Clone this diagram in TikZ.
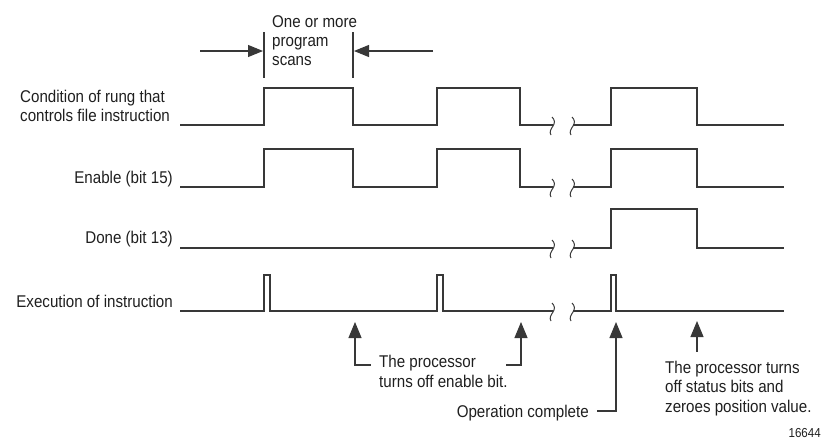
\documentclass[tikz,border=0pt]{standalone}
\usepackage{fontspec}
\setmainfont[FakeStretch=0.89]{Liberation Sans}
\usetikzlibrary{arrows.meta}
\begin{document}
\begin{tikzpicture}[x=1pt,y=-1pt,
  wave/.style={draw=black!78,line width=1.1pt,line join=miter},
  ann/.style={draw=black!78,line width=1.1pt},
  tip/.style={{Triangle[length=16pt,width=13pt]}-},
  toptip/.style={-{Triangle[length=15pt,width=12pt]}},
  lbl/.style={inner sep=0pt,text=black!88,font=\fontsize{17}{19}\selectfont},
  small/.style={inner sep=0pt,text=black!88,font=\fontsize{13}{15}\selectfont},
  brk/.pic={\draw[wave,line width=1pt] (0,-8) .. controls (3,-5) and (3,-2) .. (1,1) .. controls (-1,4) and (-3,7) .. (-1,10);}
]
\useasboundingbox (0,0) rectangle (828,440);

% ---- row labels
\node[lbl,anchor=base west] (c1) at (20,102) {Condition of rung that};
\node[lbl,anchor=base west] (c2) at (20,121) {controls file instruction};
\node[lbl,anchor=base east] (en) at (173,183) {Enable (bit 15)};
\node[lbl,anchor=base east] (dn) at (173,243) {Done (bit 13)};
\node[lbl,anchor=base east] (ex) at (173,307) {Execution of instruction};

% ---- waveforms
% condition
\draw[wave] (180,125) -- (264,125) -- (264,88) -- (353,88) -- (353,125) -- (437,125) -- (437,88) -- (520,88) -- (520,125) -- (553,125);
\draw[wave] (573,125) -- (611,125) -- (611,88) -- (697,88) -- (697,125) -- (784,125);
% enable
\draw[wave] (180,187) -- (264,187) -- (264,149) -- (353,149) -- (353,187) -- (437,187) -- (437,149) -- (520,149) -- (520,187) -- (553,187);
\draw[wave] (573,187) -- (611,187) -- (611,149) -- (697,149) -- (697,187) -- (784,187);
% done
\draw[wave] (180,248) -- (553,248);
\draw[wave] (573,248) -- (611,248) -- (611,209) -- (697,209) -- (697,248) -- (784,248);
% execution
\draw[wave] (180,311) -- (264,311) -- (264,275) -- (270,275) -- (270,311) -- (437,311) -- (437,275) -- (443,275) -- (443,311) -- (553,311);
\draw[wave] (573,311) -- (611,311) -- (611,275) -- (616,275) -- (616,311) -- (784,311);

% ---- break marks
\foreach \yy in {125,187,248,311}{
  \pic at (552,\yy) {brk};
  \pic at (572,\yy) {brk};
}

% ---- top dimension
\coordinate (t1a) at (264,32); \coordinate (t1b) at (264,78);
\coordinate (t2a) at (353,32); \coordinate (t2b) at (353,78);
\draw[ann] (t1a) -- (t1b);
\draw[ann] (t2a) -- (t2b);
\coordinate (la) at (200,51); \coordinate (lb) at (263,51);
\coordinate (ra) at (433,51); \coordinate (rb) at (354,51);
\draw[ann,toptip] (la) -- (lb);
\draw[ann,toptip] (ra) -- (rb);
\node[lbl,anchor=base west] (s1) at (272,27) {One or more};
\node[lbl,anchor=base west] (s2) at (272,46) {program};
\node[lbl,anchor=base west] (s3) at (272,65) {scans};

% ---- bottom annotations
\coordinate (a1) at (355,322); \coordinate (a1e) at (371,365);
\coordinate (a2) at (521,322); \coordinate (a2e) at (506,365);
\coordinate (a3) at (616,322); \coordinate (a3e) at (597,411);
\coordinate (a4) at (697,321); \coordinate (a4e) at (697,352);
\draw[ann,tip] (a1) |- (a1e);
\draw[ann,tip] (a2) |- (a2e);
\draw[ann,tip] (a3) |- (a3e);
\draw[ann,tip] (a4) -- (a4e);

\node[lbl,anchor=base west] (p1) at (379,367) {The processor};
\node[lbl,anchor=base west] (p2) at (379,387) {turns off enable bit.};
\node[lbl,anchor=base east] (oc) at (589,417) {Operation complete};
\node[lbl,anchor=base west] (q1) at (665,373) {The processor turns};
\node[lbl,anchor=base west] (q2) at (665,392) {off status bits and};
\node[lbl,anchor=base west] (q3) at (665,412) {zeroes position value.};
\node[small,anchor=base east] (fig) at (821,437) {16644};
\end{tikzpicture}
\end{document}
